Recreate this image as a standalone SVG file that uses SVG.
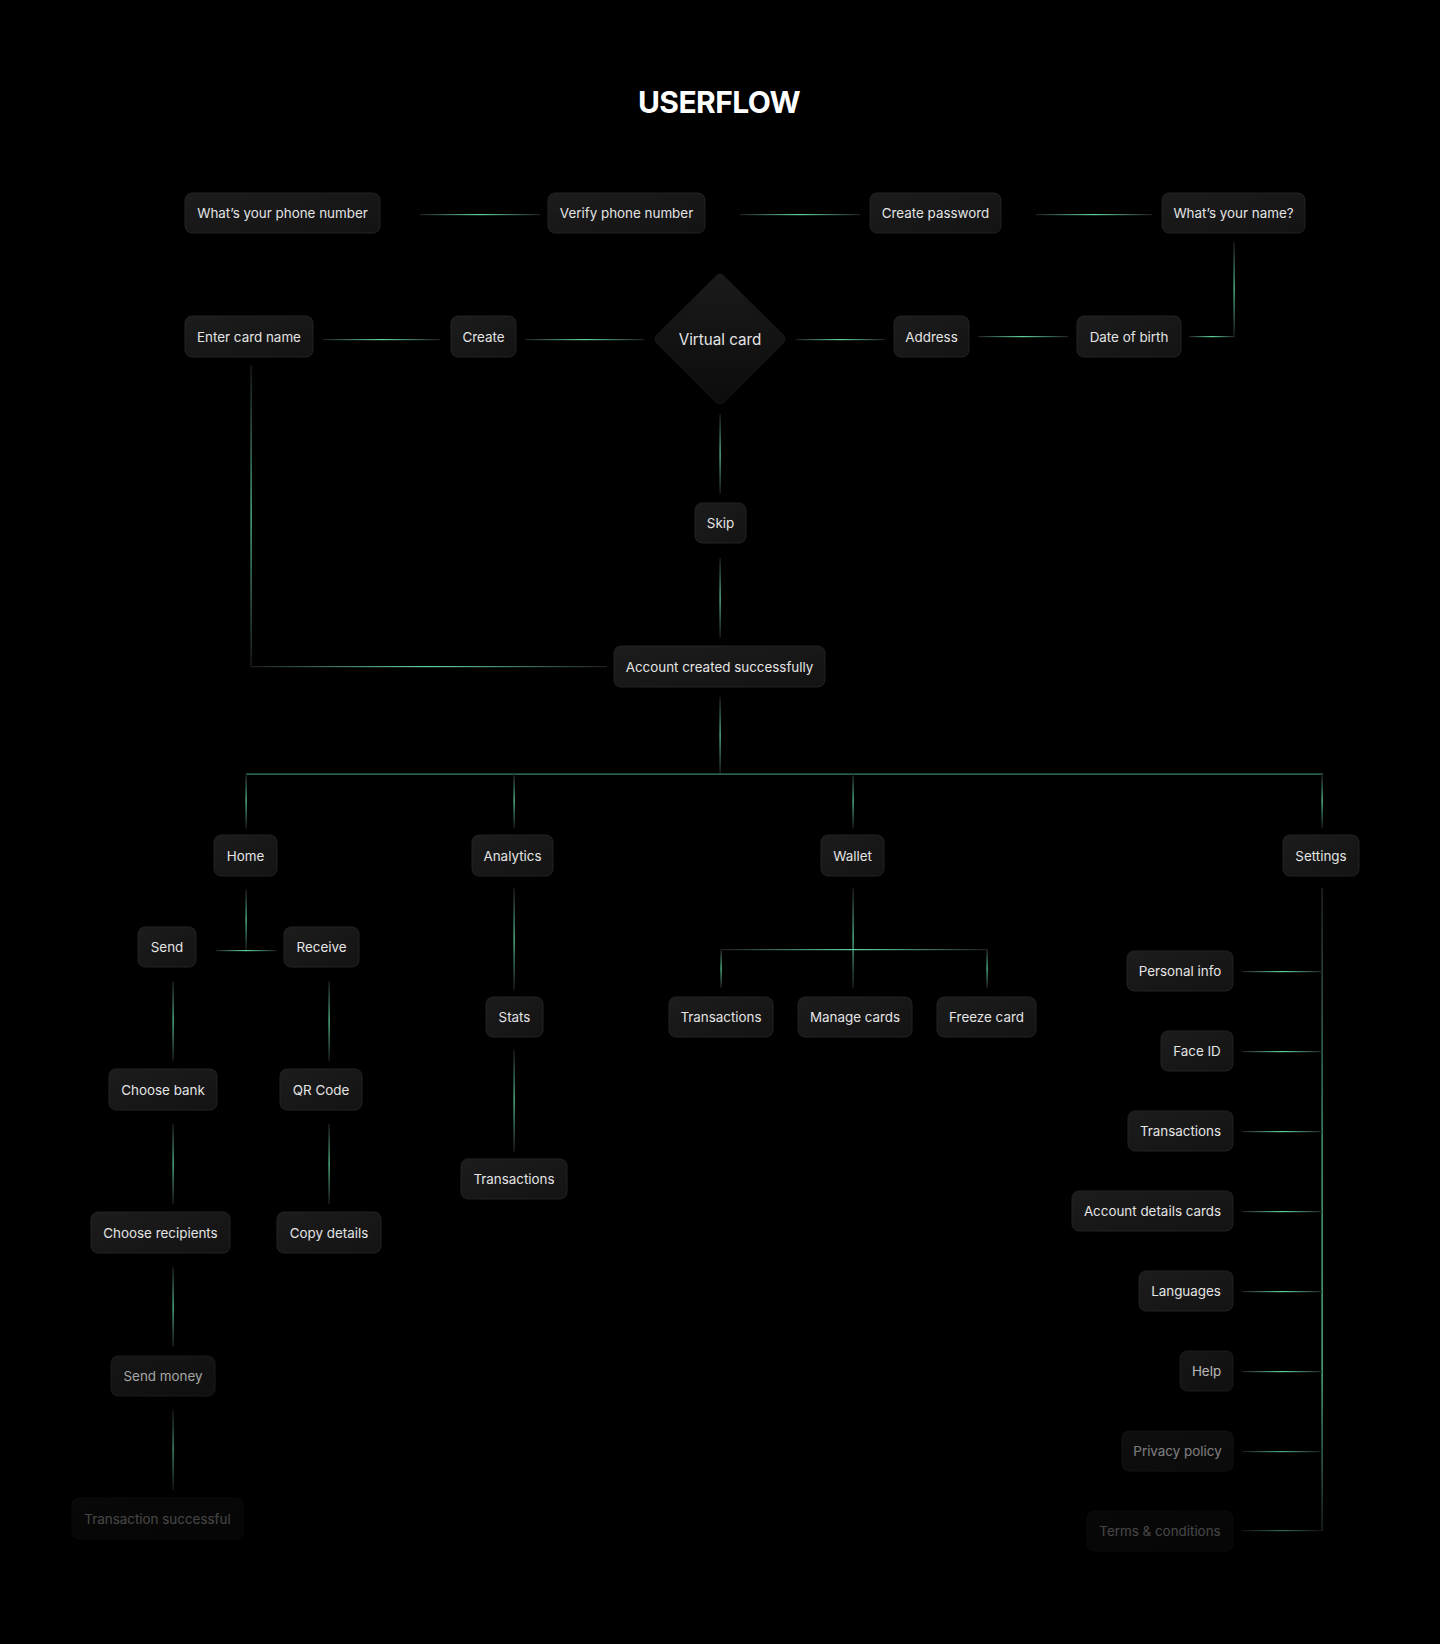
<svg xmlns="http://www.w3.org/2000/svg" width="1440" height="1644" viewBox="0 0 1440 1644">
<defs>
<style>
.n rect{fill:url(#nf);stroke:#222;stroke-width:1}
.n text, .t{font-family:Inter,"Noto Sans","Liberation Sans",sans-serif;font-size:13.4px;font-weight:400;fill:#e4e4e4;text-anchor:middle}
.f1{opacity:0.8}
.f2{opacity:0.3}
.f3{opacity:0.55}
.hz{fill:url(#gh)}
.vt{fill:url(#gv)}
</style>
<linearGradient id="nf" x1="0" y1="0" x2="1" y2="1">
<stop offset="0" stop-color="#1c1c1c"/>
<stop offset="1" stop-color="#131313"/>
</linearGradient>
<linearGradient id="df" x1="0" y1="0" x2="1" y2="1">
<stop offset="0" stop-color="#1a1a1a"/>
<stop offset="1" stop-color="#0c0c0c"/>
</linearGradient>
<linearGradient id="gh" x1="0" y1="0" x2="1" y2="0">
<stop offset="0" stop-color="#1e1e1e"/>
<stop offset="0.5" stop-color="#5fd39f"/>
<stop offset="1" stop-color="#1e1e1e"/>
</linearGradient>
<linearGradient id="gv" x1="0" y1="0" x2="0" y2="1">
<stop offset="0" stop-color="#1e1e1e"/>
<stop offset="0.5" stop-color="#5fd39f"/>
<stop offset="1" stop-color="#1e1e1e"/>
</linearGradient>
<linearGradient id="gs" x1="0" y1="0" x2="0" y2="1">
<stop offset="0" stop-color="#2a2a2a"/>
<stop offset="0.4" stop-color="#4fb88a"/>
<stop offset="0.75" stop-color="#5fd39f"/>
<stop offset="1" stop-color="#1e2a24"/>
</linearGradient>
</defs>
<rect width="1440" height="1644" fill="#000"/>
<text x="719" y="113" style="font-family:Inter,'Liberation Sans',sans-serif;font-size:30px;font-weight:700;fill:#fff;text-anchor:middle;letter-spacing:-0.6px">USERFLOW</text>

<g id="connectors">
<rect class="hz" x="420" y="214" width="120" height="1.2"/>
<rect class="hz" x="740" y="214" width="120" height="1.2"/>
<rect class="hz" x="1036" y="214" width="116" height="1.2"/>
<rect class="vt" x="1233.5" y="242" width="1.2" height="95"/>
<rect class="hz" x="1189" y="336" width="46" height="1.2"/>
<rect class="hz" x="978" y="336" width="90" height="1.2"/>
<rect class="hz" x="796" y="339" width="89" height="1.2"/>
<rect class="hz" x="525" y="339" width="119" height="1.2"/>
<rect class="hz" x="323" y="339" width="117" height="1.2"/>
<rect class="vt" x="250.5" y="365" width="1.2" height="302"/>
<rect class="hz" x="251" y="666" width="356" height="1.2"/>
<rect class="vt" x="719.5" y="414" width="1.2" height="80"/>
<rect class="vt" x="719.5" y="558" width="1.2" height="80"/>
<rect class="vt" x="719.5" y="697" width="1.2" height="77"/>
<rect x="246" y="773.5" width="1077" height="1.2" fill="#3f8a69"/>
<rect class="vt" x="245.5" y="774" width="1.2" height="54"/>
<rect class="vt" x="513.5" y="774" width="1.2" height="54"/>
<rect class="vt" x="852.5" y="774" width="1.2" height="54"/>
<rect class="vt" x="1321.5" y="774" width="1.2" height="54"/>
<rect class="vt" x="245.5" y="890" width="1.2" height="60"/>
<rect class="hz" x="216" y="950" width="60" height="1.2"/>
<rect class="vt" x="172.5" y="981" width="1.2" height="80"/>
<rect class="vt" x="328.5" y="981" width="1.2" height="80"/>
<rect class="vt" x="172.5" y="1124" width="1.2" height="80"/>
<rect class="vt" x="328.5" y="1124" width="1.2" height="80"/>
<rect class="vt" x="172.5" y="1267" width="1.2" height="80"/>
<rect class="vt" x="172.5" y="1410" width="1.2" height="80" opacity="0.8"/>
<rect class="vt" x="513.5" y="888" width="1.2" height="102"/>
<rect class="vt" x="513.5" y="1050" width="1.2" height="102"/>
<rect class="vt" x="852.5" y="888" width="1.2" height="100"/>
<rect class="hz" x="721" y="949" width="267" height="1.2"/>
<rect class="vt" x="720.5" y="949" width="1.2" height="39"/>
<rect class="vt" x="986.5" y="949" width="1.2" height="39"/>
<rect x="1321.5" y="888" width="1.2" height="643" fill="url(#gs)"/>
<rect class="hz" x="1242" y="971" width="80" height="1.2"/>
<rect class="hz" x="1242" y="1051" width="80" height="1.2"/>
<rect class="hz" x="1242" y="1131" width="80" height="1.2"/>
<rect class="hz" x="1242" y="1211" width="80" height="1.2"/>
<rect class="hz" x="1242" y="1291" width="80" height="1.2"/>
<rect class="hz" x="1242" y="1371" width="80" height="1.2"/>
<rect class="hz" x="1242" y="1451" width="80" height="1.2" opacity="0.8"/>
<rect class="hz" x="1242" y="1530" width="80" height="1.2" opacity="0.5"/>
</g>

<g id="n_phone" class="n"><rect x="185" y="193" width="195" height="40" rx="7"/><text x="282.5" y="218">What’s your phone number</text></g>
<g id="n_verify" class="n"><rect x="548" y="193" width="157" height="40" rx="7"/><text x="626.5" y="218">Verify phone number</text></g>
<g id="n_password" class="n"><rect x="870" y="193" width="131" height="40" rx="7"/><text x="935.5" y="218">Create password</text></g>
<g id="n_name" class="n"><rect x="1162" y="193" width="143" height="40" rx="7"/><text x="1233.5" y="218">What’s your name?</text></g>

<g id="n_cardname" class="n"><rect x="185" y="316" width="128" height="41" rx="7"/><text x="249" y="341.5">Enter card name</text></g>
<g id="n_create" class="n"><rect x="451" y="316" width="65" height="41" rx="7"/><text x="483.5" y="341.5">Create</text></g>
<g id="n_virtual" class="n"><rect x="-47.4" y="-47.4" width="94.8" height="94.8" rx="5" transform="translate(720 339) rotate(45)" style="fill:url(#df);stroke:#161616"/><text x="720" y="344.5" style="font-size:15.2px">Virtual card</text></g>
<g id="n_address" class="n"><rect x="894" y="316" width="75" height="41" rx="7"/><text x="931.5" y="341.5">Address</text></g>
<g id="n_dob" class="n"><rect x="1077" y="316" width="104" height="41" rx="7"/><text x="1129" y="341.5">Date of birth</text></g>

<g id="n_skip" class="n"><rect x="695" y="503" width="51" height="40" rx="7"/><text x="720.5" y="528">Skip</text></g>
<g id="n_account" class="n"><rect x="614" y="646" width="211" height="41" rx="7"/><text x="719.5" y="671.5">Account created successfully</text></g>

<g id="n_home" class="n"><rect x="214" y="835" width="63" height="41" rx="7"/><text x="245.5" y="860.5">Home</text></g>
<g id="n_analytics" class="n"><rect x="472" y="835" width="81" height="41" rx="7"/><text x="512.5" y="860.5">Analytics</text></g>
<g id="n_wallet" class="n"><rect x="821" y="835" width="63" height="41" rx="7"/><text x="852.5" y="860.5">Wallet</text></g>
<g id="n_settings" class="n"><rect x="1283" y="835" width="76" height="41" rx="7"/><text x="1321" y="860.5">Settings</text></g>

<g id="n_send" class="n"><rect x="138" y="927" width="58" height="40" rx="7"/><text x="167" y="952">Send</text></g>
<g id="n_receive" class="n"><rect x="284" y="927" width="75" height="40" rx="7"/><text x="321.5" y="952">Receive</text></g>
<g id="n_bank" class="n"><rect x="109" y="1069" width="108" height="41" rx="7"/><text x="163" y="1094.5">Choose bank</text></g>
<g id="n_qr" class="n"><rect x="280" y="1069" width="82" height="41" rx="7"/><text x="321" y="1094.5">QR Code</text></g>
<g id="n_recipients" class="n"><rect x="91" y="1212" width="139" height="41" rx="7"/><text x="160.5" y="1237.5">Choose recipients</text></g>
<g id="n_copy" class="n"><rect x="277" y="1212" width="104" height="41" rx="7"/><text x="329" y="1237.5">Copy details</text></g>
<g id="n_sendmoney" class="n f1"><rect x="111" y="1356" width="104" height="40" rx="7"/><text x="163" y="1381" style="fill:#cfcfcf">Send money</text></g>
<g id="n_txsuccess" class="n f2"><rect x="72" y="1498" width="171" height="41" rx="7"/><text x="157.5" y="1523.5">Transaction successful</text></g>

<g id="n_stats" class="n"><rect x="486" y="997" width="57" height="40" rx="7"/><text x="514.5" y="1022">Stats</text></g>
<g id="n_atx" class="n"><rect x="461" y="1159" width="106" height="40" rx="7"/><text x="514" y="1184">Transactions</text></g>

<g id="n_wtx" class="n"><rect x="669" y="997" width="104" height="40" rx="7"/><text x="721" y="1022">Transactions</text></g>
<g id="n_manage" class="n"><rect x="798" y="997" width="114" height="40" rx="7"/><text x="855" y="1022">Manage cards</text></g>
<g id="n_freeze" class="n"><rect x="937" y="997" width="99" height="40" rx="7"/><text x="986.5" y="1022">Freeze card</text></g>

<g id="n_personal" class="n"><rect x="1127" y="951" width="106" height="40" rx="7"/><text x="1180" y="976">Personal info</text></g>
<g id="n_faceid" class="n"><rect x="1161" y="1031" width="72" height="40" rx="7"/><text x="1197" y="1056">Face ID</text></g>
<g id="n_stx" class="n"><rect x="1128" y="1111" width="105" height="40" rx="7"/><text x="1180.5" y="1136">Transactions</text></g>
<g id="n_accdetails" class="n"><rect x="1072" y="1191" width="161" height="40" rx="7"/><text x="1152.5" y="1216">Account details cards</text></g>
<g id="n_languages" class="n"><rect x="1139" y="1271" width="94" height="40" rx="7"/><text x="1186" y="1296">Languages</text></g>
<g id="n_help" class="n f1"><rect x="1180" y="1351" width="53" height="40" rx="7"/><text x="1206.5" y="1376">Help</text></g>
<g id="n_privacy" class="n f3"><rect x="1122" y="1431" width="111" height="40" rx="7"/><text x="1177.5" y="1456">Privacy policy</text></g>
<g id="n_terms" class="n f2"><rect x="1087" y="1511" width="146" height="40" rx="7"/><text x="1160" y="1536">Terms &amp; conditions</text></g>
</svg>
